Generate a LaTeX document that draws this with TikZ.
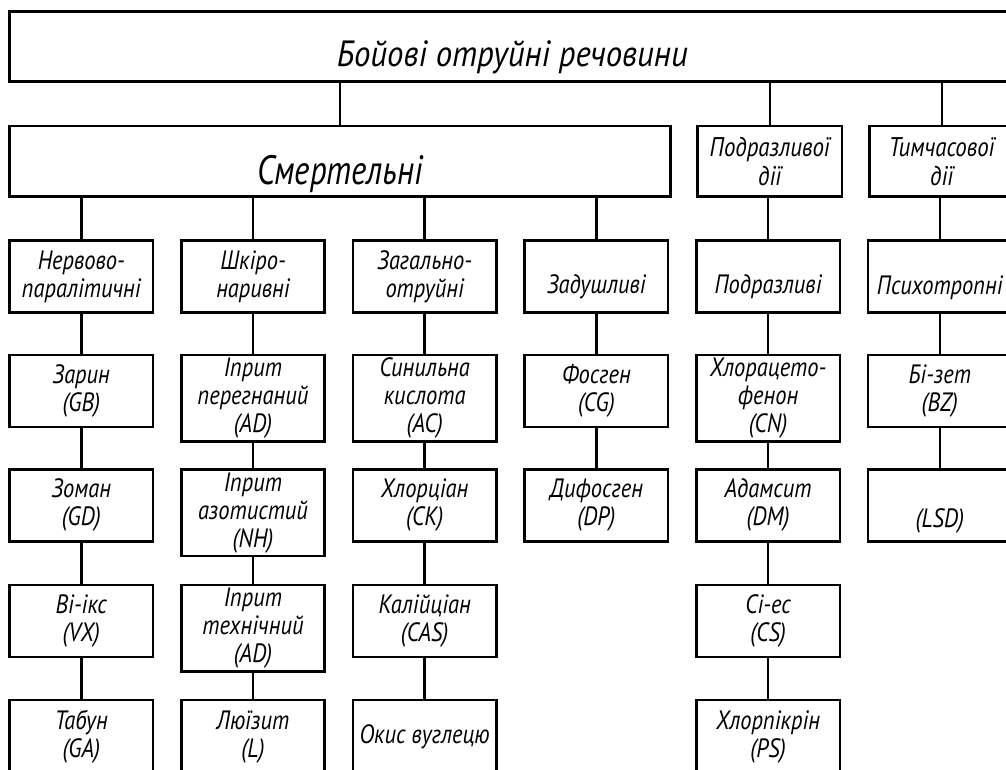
\documentclass[tikz,border=0pt]{standalone}
\usepackage{fontspec}
\setmainfont{PT Sans}
\newfontfamily\gost{PT Sans}[FakeStretch=0.85]
\newfontfamily\gostw{PT Sans}[FakeStretch=0.9]
\newfontfamily\gostn{PT Sans}[FakeStretch=0.8]
\newcommand\dn[2]{\raisebox{-#1}[\height][\depth]{#2}}
\begin{document}
\begin{tikzpicture}[x=1pt,y=-1pt,
  box/.style={draw=black, line width=2.6pt, inner sep=0pt, align=center,
    minimum width=143.5pt, minimum height=72pt,
    font=\gost\itshape\fontsize{26.5}{28}\selectfont},
  tall/.style={minimum height=86.7pt},
  bigbox/.style={box, font=\gostw\itshape\fontsize{36.5}{40}\selectfont},
  link/.style={line width=2.6pt, line cap=rect}]
\useasboundingbox (0,0) rectangle (1006,769);
\fill[white] (0,0) rectangle (1006,769);
\clip (0,0) rectangle (1006,769);

% top level
\node[bigbox, minimum width=1005.4pt, minimum height=70pt] (top) at (512.3,46.7) {\dn{11pt}{Бойові отруйні речовини}};
\node[bigbox, minimum width=661.1pt, minimum height=70.7pt, font=\gostn\itshape\fontsize{41}{44}\selectfont] (smert) at (340.15,161.4) {\dn{13pt}{Смертельні}};
\node[box, minimum width=144.3pt, minimum height=70.7pt, font=\gost\itshape\fontsize{27}{28.7}\selectfont] (podr) at (769.85,161.4) {Подразливої\\дії};
\node[box, minimum width=144.3pt, minimum height=70.7pt, font=\gost\itshape\fontsize{27}{28.7}\selectfont] (tymch) at (941.85,161.4) {Тимчасової\\дії};

% row A
\node[box] (a0) at (81.3,276.7) {Нервово-\\паралітичні};
\node[box] (a1) at (253.0,276.7) {Шкіро-\\наривні};
\node[box] (a2) at (424.7,276.7) {Загально-\\отруйні};
\node[box] (a3) at (596.4,276.7) {\dn{10.5pt}{Задушливі}};
\node[box] (a4) at (768.1,276.7) {\dn{10pt}{Подразливі}};
\node[box] (a5) at (939.8,276.7) {\dn{11.5pt}{Психотропні}};

% row B
\node[box] (b0) at (81.3,391) {Зарин\\(GB)};
\node[box, tall] (b1) at (253.0,398.35) {Іприт\\перегнаний\\(AD)};
\node[box, tall] (b2) at (424.7,398.35) {Синильна\\кислота\\(AC)};
\node[box] (b3) at (596.4,391) {Фосген\\(CG)};
\node[box, tall] (b4) at (768.1,398.35) {Хлорацето-\\фенон\\(CN)};
\node[box] (b5) at (939.8,391) {Бі-зет\\(BZ)};

% row C
\node[box] (c0) at (81.3,505.3) {Зоман\\(GD)};
\node[box, tall] (c1) at (253.0,512.65) {Іприт\\азотистий\\(NH)};
\node[box] (c2) at (424.7,505.3) {Хлорціан\\(CK)};
\node[box] (c3) at (596.4,505.3) {Дифосген\\(DP)};
\node[box] (c4) at (768.1,505.3) {Адамсит\\(DM)};
\node[box] (c5) at (939.8,505.3) {\dn{15.5pt}{(LSD)}};

% row D
\node[box] (d0) at (81.3,621) {Ві-ікс\\(VX)};
\node[box, tall] (d1) at (253.0,628.35) {Іприт\\технічний\\(AD)};
\node[box] (d2) at (424.7,621) {Калійціан\\(CAS)};
\node[box] (d4) at (768.1,621) {Сі-ес\\(CS)};

% row E
\node[box, minimum height=74pt] (e0) at (81.3,737) {Табун\\(GA)};
\node[box, minimum height=74pt] (e1) at (253.0,737) {Люїзит\\(L)};
\node[box, minimum height=74pt] (e2) at (424.7,737) {Окис вуглецю};
\node[box, minimum height=74pt] (e4) at (768.1,737) {Хлорпікрін\\(PS)};

% connectors
\draw[link] (top.south -| smert.north) -- (smert.north);
\draw[link] (top.south -| podr.north) -- (podr.north);
\draw[link] (top.south -| tymch.north) -- (tymch.north);
\foreach \c in {a0,a1,a2,a3}{\draw[link] (smert.south -| \c.north) -- (\c.north);}
\draw[link] (podr.south -| a4.north) -- (a4.north);
\draw[link] (tymch.south -| a5.north) -- (a5.north);
\foreach \u/\v in {a0/b0,b0/c0,c0/d0,d0/e0,
                   a1/b1,b1/c1,c1/d1,d1/e1,
                   a2/b2,b2/c2,c2/d2,d2/e2,
                   a3/b3,b3/c3,
                   a4/b4,b4/c4,c4/d4,d4/e4,
                   a5/b5,b5/c5}{\draw[link] (\u.south) -- (\v.north);}
\end{tikzpicture}
\end{document}
